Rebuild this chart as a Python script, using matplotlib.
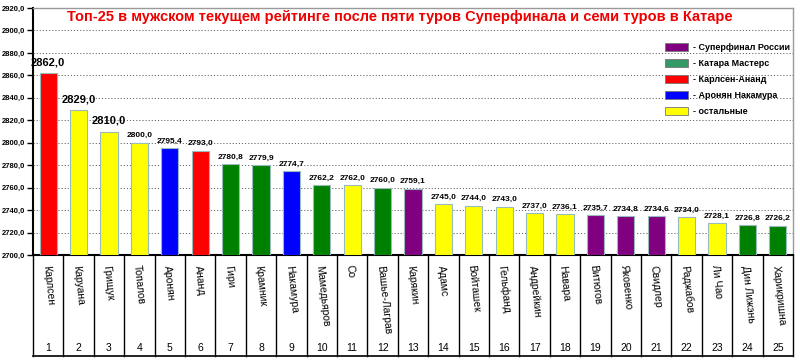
import matplotlib
matplotlib.use("Agg")
import matplotlib.pyplot as plt
from matplotlib.patches import Patch
from matplotlib.lines import Line2D

plt.rcParams['font.family'] = ['Liberation Sans', 'DejaVu Sans']

names = ["Карлсен", "Каруана", "Грищук", "Топалов", "Аронян", "Ананд", "Гири", "Крамник",
         "Накамура", "Мамедьяров", "Со", "Вашье-Лаграв", "Карякин", "Адамс", "Войташек",
         "Гельфанд", "Андрейкин", "Навара", "Витюгов", "Яковенко", "Свидлер", "Раджабов",
         "Ли Чао", "Дин Лижэнь", "Харикришна"]
ranks = list(range(1, 26))
values = [2862.0, 2829.0, 2810.0, 2800.0, 2795.4, 2793.0, 2780.8, 2779.9, 2774.7, 2762.2,
          2762.0, 2760.0, 2759.1, 2745.0, 2744.0, 2743.0, 2737.0, 2736.1, 2735.7, 2734.8,
          2734.6, 2734.0, 2728.1, 2726.8, 2726.2]
groups = ["ca", "oth", "oth", "oth", "an", "ca", "qa", "qa", "an", "qa",
          "oth", "qa", "ru", "oth", "oth", "oth", "oth", "oth", "ru", "ru",
          "ru", "oth", "oth", "qa", "qa"]
bar_colors = {"ru": "#800080", "qa": "#008000", "ca": "#FF0000", "an": "#0000FF", "oth": "#FFFF00"}
legend_labels = ["- Суперфинал России", "- Катара Мастерс", "- Карлсен-Ананд",
                 "- Аронян Накамура", "- остальные"]
legend_colors = ["#800080", "#339966", "#FF0000", "#0000FF", "#FFFF00"]
title = "Топ-25 в мужском текущем рейтинге после пяти туров Суперфинала и семи туров в Катаре"
yticks = list(range(2700, 2921, 20))

fig = plt.figure(figsize=(8, 3.62), dpi=100)
ax = fig.add_axes([33/800, 1-255/362, 760/800, 247/362])
x = list(range(len(values)))
ax.bar(x, [v - 2700 for v in values], bottom=2700, width=0.56,
       color=[bar_colors[g] for g in groups], edgecolor="#99BBBB", linewidth=0.8, zorder=3)
ax.set_xlim(-0.5, len(values) - 0.5)
ax.set_ylim(2700, 2920)
ax.set_yticks(yticks)
ax.set_yticklabels([f"{t},0" for t in yticks], fontsize=5.5, fontweight='bold')
ax.tick_params(axis='y', length=4, width=1, pad=2, direction='out')
ax.set_xticks([])
ax.yaxis.grid(True, linestyle=(0, (1.2, 2.0)), color="#666666", linewidth=0.7)
for s in ["top", "right"]:
    ax.spines[s].set_color("#999999")
    ax.spines[s].set_linewidth(1)
ax.spines["left"].set_linewidth(1.5)
ax.spines["bottom"].set_linewidth(1.5)

for i, v in enumerate(values):
    lab = f"{v:.1f}".replace(".", ",")
    big = i < 3
    ax.annotate(lab, (i, v), xytext=(0, 4 if big else 2.5), textcoords="offset points",
                ha="center", va="bottom", fontsize=8 if big else 6, fontweight="bold", zorder=4)

# table below axis
tbot = -101/247
for i in range(len(values) + 1):
    ax.add_line(Line2D([i - 0.5, i - 0.5], [0, tbot], transform=ax.get_xaxis_transform(),
                       color="black", linewidth=1, clip_on=False))
ax.add_line(Line2D([-0.5, len(values) - 0.5], [tbot, tbot], transform=ax.get_xaxis_transform(),
                   color="black", linewidth=1.2, clip_on=False))
for i, (n, r) in enumerate(zip(names, ranks)):
    ax.text(i - 0.08, -10/247, n, transform=ax.get_xaxis_transform(), rotation=-84,
            rotation_mode="anchor", ha="left", va="center", fontsize=7.5)
    ax.text(i, -93/247, str(r), transform=ax.get_xaxis_transform(),
            ha="center", va="center", fontsize=7.5)

fig.text(0.5, 1-17/362, title, color="#EE0000", fontsize=10.5, fontweight="bold",
         ha="center", va="center")

handles = [Patch(facecolor=c, edgecolor="#777777", linewidth=0.6) for c in legend_colors]
fig.legend(handles, legend_labels, loc="upper left", bbox_to_anchor=(665/800, 1-43/362),
           frameon=False, prop={"size": 6.5, "weight": "bold"}, handlelength=2.6,
           handleheight=1.0, handletextpad=0.5, labelspacing=0.75, borderpad=0, borderaxespad=0)

fig.savefig("out.png", dpi=100)
